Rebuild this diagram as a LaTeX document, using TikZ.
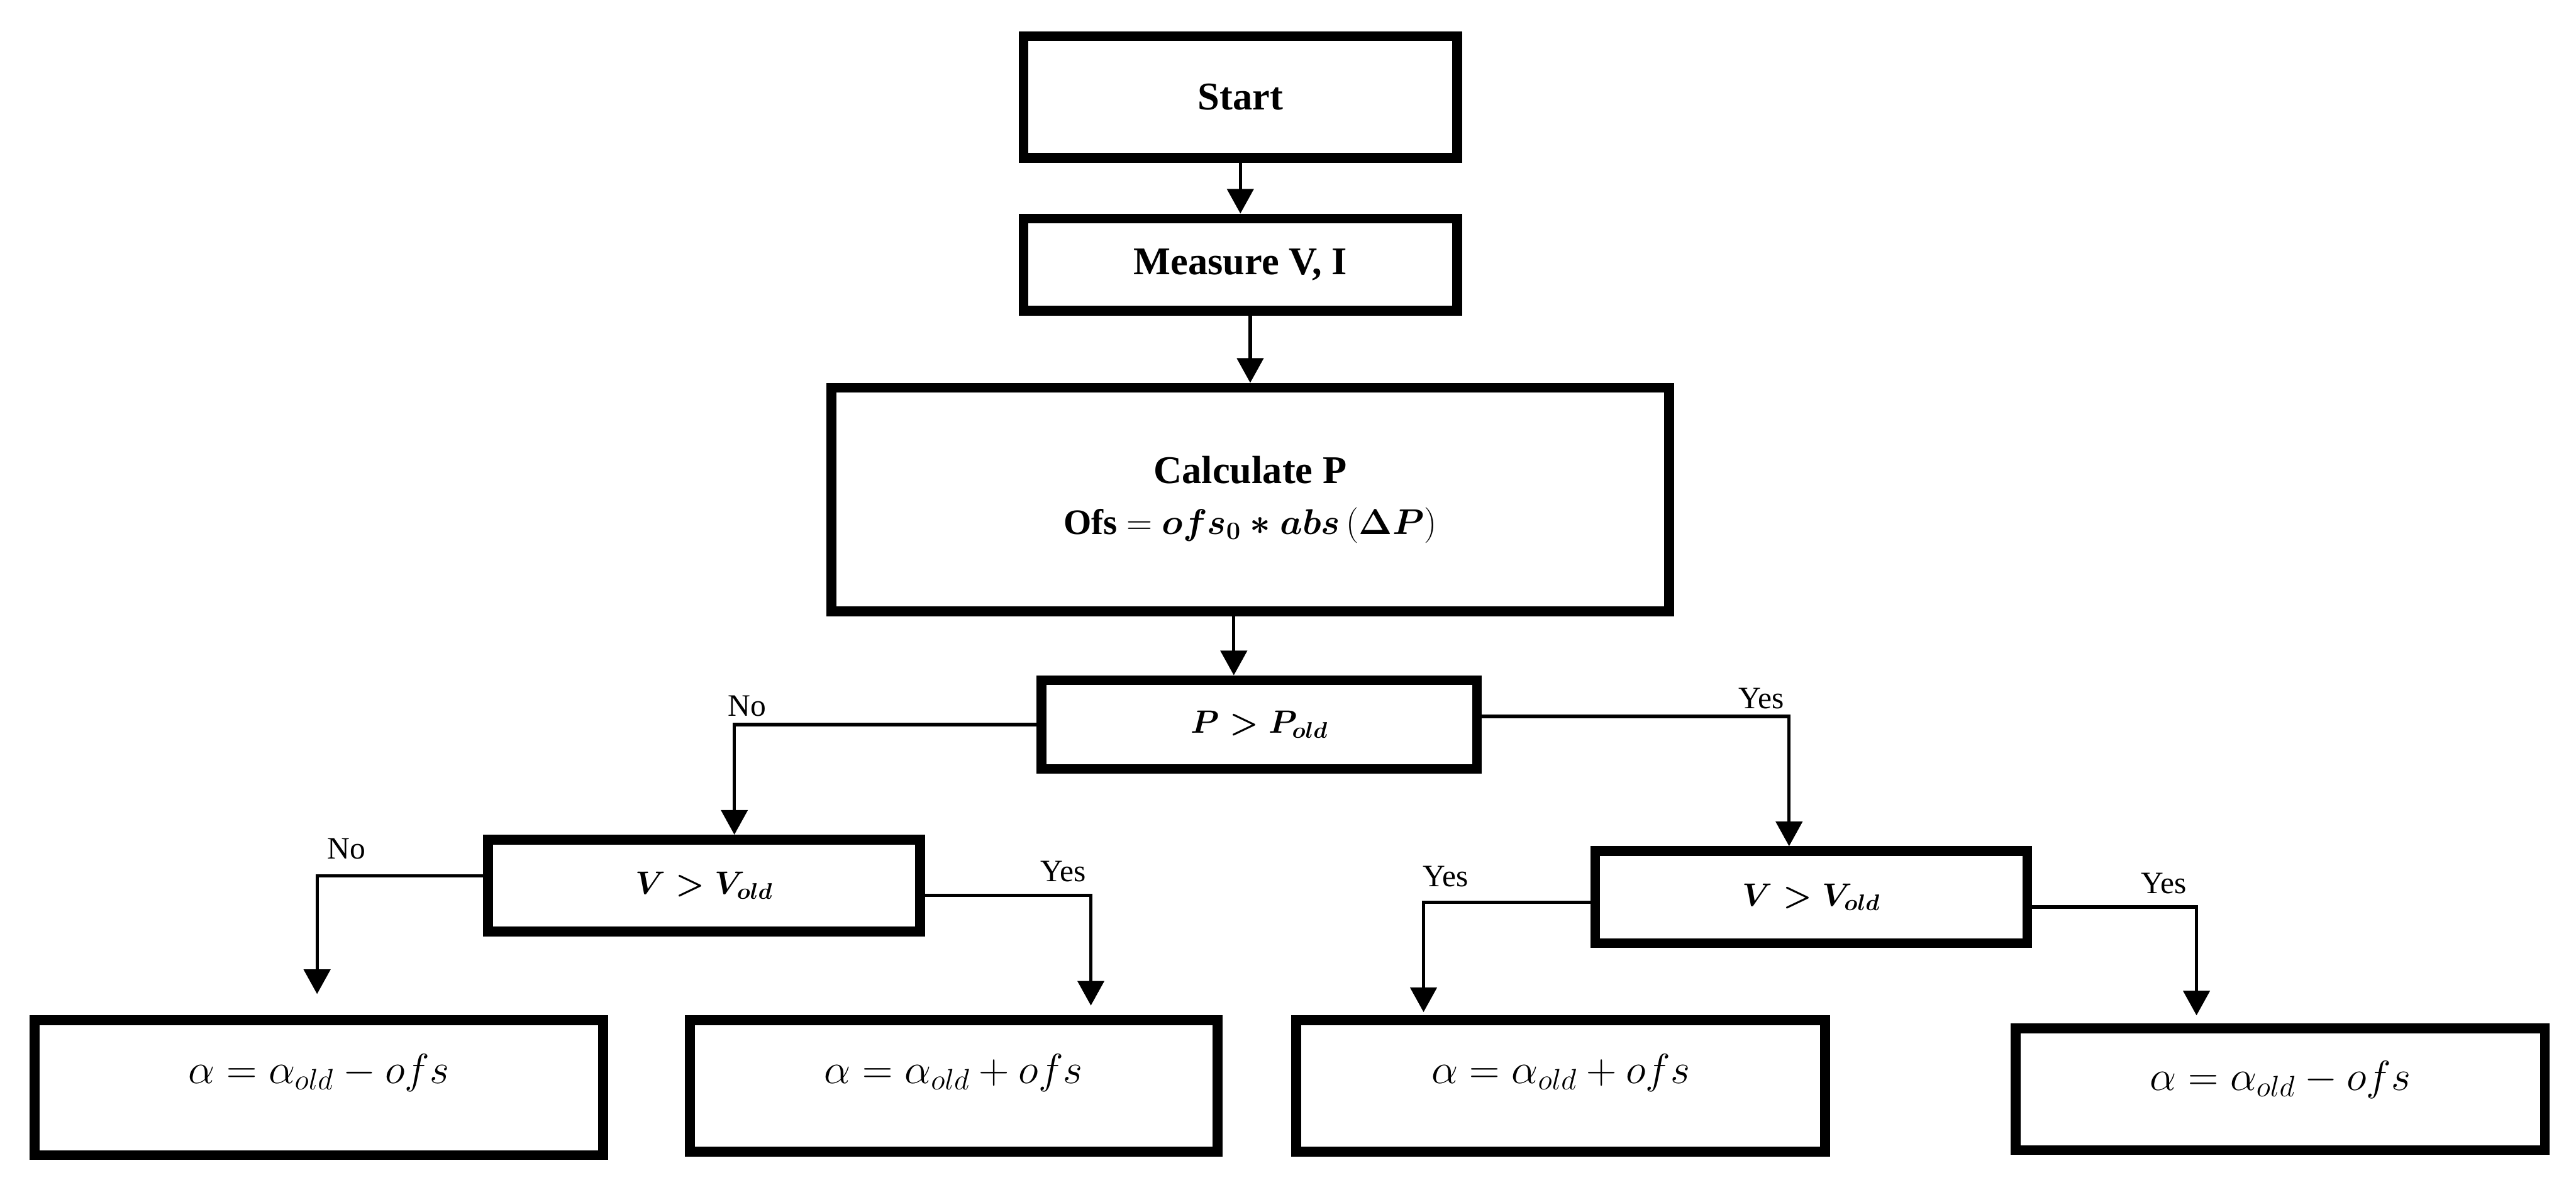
\RequirePackage{fix-cm}
\documentclass[tikz,border=0pt]{standalone}
\usepackage{amsmath}
\usepackage{fontspec}
\setmainfont{Liberation Serif}
\usetikzlibrary{arrows.meta,calc}
\begin{document}
\begin{tikzpicture}[x=0.05cm,y=-0.05cm,
  box/.style={draw, line width=0.3cm, rectangle, inner sep=0pt, align=center},
  bigtxt/.style={font=\bfseries\fontsize{34}{44}\selectfont},
  midtxt/.style={font=\fontsize{28}{34}\selectfont},
  ftxt/.style={inner sep=0pt, font=\fontsize{36.5}{42}\selectfont},
  conn/.style={line width=0.1cm},
  arr/.style={conn, -{Triangle[width=0.8cm,length=0.75cm]}},
  lab/.style={inner sep=0pt, font=\fontsize{27}{32}\selectfont}]
\fill[white] (0,0) rectangle (1568,721);
\useasboundingbox (0,0) rectangle (1568,721);

% main chain
\node[box, bigtxt, minimum width=13.2cm, minimum height=3.7cm] (start) at (755,59) {Start};
\node[box, bigtxt, minimum width=13.2cm, minimum height=2.8cm] (meas) at (755,161) {Measure V, I};
\node[box, bigtxt, minimum width=25.5cm, minimum height=6.8cm] (calc) at (761,304)
  {Calculate P\\{\fontsize{31}{44}\selectfont Ofs $=\boldsymbol{ofs_0 \ast abs}\,(\boldsymbol{\Delta P})$}};
\node[box, midtxt, minimum width=13.25cm, minimum height=2.7cm] (pbox) at (766.5,441) {$\boldsymbol{P > P_{old}}$};
\node[box, midtxt, minimum width=13.15cm, minimum height=2.8cm] (vl) at (428.5,539) {$\boldsymbol{V > V_{old}}$};
\node[box, midtxt, minimum width=13.15cm, minimum height=2.8cm] (vr) at (1102.5,546) {$\boldsymbol{V > V_{old}}$};

% result boxes
\node[box, minimum width=17.3cm, minimum height=4.1cm] (b1) at (194,662) {};
\node[box, minimum width=16.05cm, minimum height=4.0cm] (b2) at (580.5,661) {};
\node[box, minimum width=16.1cm, minimum height=4.0cm] (b3) at (950,661) {};
\node[box, minimum width=16.1cm, minimum height=3.7cm] (b4) at (1388,663) {};
\node[ftxt] (t1) at (194,653) {$\alpha = \alpha_{old} - ofs$};
\node[ftxt] (t2) at (580.5,653) {$\alpha = \alpha_{old} + ofs$};
\node[ftxt] (t3) at (950,653) {$\alpha = \alpha_{old} + ofs$};
\node[ftxt] (t4) at (1388,657) {$\alpha = \alpha_{old} - ofs$};

% vertical chain arrows
\draw[arr] (start.south) -- (meas.north);
\draw[arr] (calc.north |- meas.south) -- (calc.north);
\draw[arr] ([xshift=-0.5cm]calc.south) -- ([xshift=-0.5cm]calc.south |- pbox.north);

% branches from P > P_old
\coordinate (c1) at (447,441);
\draw[arr] (pbox.west |- c1) -- (c1) -- (c1 |- vl.north);
\node[lab, anchor=south west] (n1) at (443,436) {No};

\coordinate (c2) at (1089,436);
\draw[arr] (pbox.east |- c2) -- (c2) -- (c2 |- vr.north);
\node[lab, anchor=south east] (y1) at (1086,431.5) {Yes};

% branches from left V > V_old
\coordinate (c3) at (193,533);
\coordinate (a3) at (193,605);
\draw[arr] (vl.west |- c3) -- (c3) -- (a3);
\node[lab, anchor=south west] (n2) at (199,523) {No};

\coordinate (c4) at (664,545);
\coordinate (a4) at (664,612);
\draw[arr] (vl.east |- c4) -- (c4) -- (a4);
\node[lab, anchor=south east] (y2) at (661,537) {Yes};

% branches from right V > V_old
\coordinate (c5) at (866.5,549);
\coordinate (a5) at (866.5,616);
\draw[arr] (vr.west |- c5) -- (c5) -- (a5);
\node[lab, anchor=south west] (y3) at (866,540) {Yes};

\coordinate (c6) at (1337,552);
\coordinate (a6) at (1337,618);
\draw[arr] (vr.east |- c6) -- (c6) -- (a6);
\node[lab, anchor=south east] (y4) at (1331,544) {Yes};
\end{tikzpicture}
\end{document}
